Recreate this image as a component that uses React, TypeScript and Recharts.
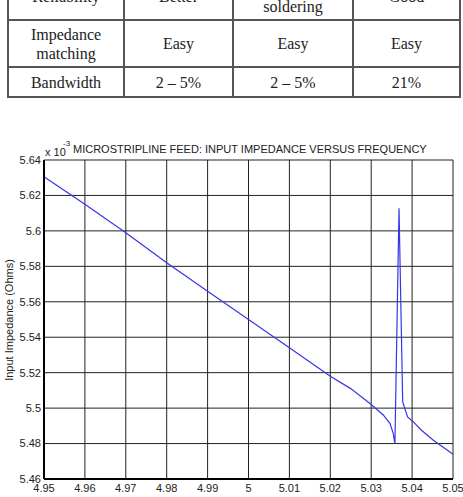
import React from 'react';
import { LineChart, Line, XAxis, YAxis, CartesianGrid } from 'recharts';

// frequency (GHz) and input impedance (x 10^-3 Ohms)
const freq = [
  4.95, 4.96, 4.97, 4.98, 4.99, 5.0, 5.01, 5.02, 5.025, 5.03, 5.033, 5.0346, 5.0354, 5.0358,
  5.0368, 5.0377, 5.0389, 5.0403, 5.0423, 5.0452, 5.05,
];
const impedance = [
  5.6306, 5.615, 5.599, 5.582, 5.566, 5.55, 5.534, 5.518, 5.511, 5.502, 5.496, 5.4913, 5.4856, 5.48,
  5.6128, 5.5035, 5.495, 5.4922, 5.4875, 5.4819, 5.474,
];

const xTicks = [4.95, 4.96, 4.97, 4.98, 4.99, 5.0, 5.01, 5.02, 5.03, 5.04, 5.05];
const xTickLabels = ['4.95', '4.96', '4.97', '4.98', '4.99', '5', '5.01', '5.02', '5.03', '5.04', '5.05'];
const yTicks = [5.46, 5.48, 5.5, 5.52, 5.54, 5.56, 5.58, 5.6, 5.62, 5.64];
const yTickLabels = ['5.46', '5.48', '5.5', '5.52', '5.54', '5.56', '5.58', '5.6', '5.62', '5.64'];

const tableRows = [
  ['Reliability', 'Better', '\u00a0\nsoldering', 'Good'],
  ['Impedance\nmatching', 'Easy', 'Easy', 'Easy'],
  ['Bandwidth', '2 \u2013 5%', '2 \u2013 5%', '21%'],
];
const rowHeights = [47, 47, 30];
const colWidths = [116, 109, 120, 107];

const data = freq.map((f, i) => ({ f, z: impedance[i] }));
const font = '"Liberation Sans", Arial, sans-serif';

export default function App() {
  return (
    <div style={{ position: 'absolute', left: 0, top: 0, width: 463, height: 497, overflow: 'hidden', background: '#fff' }}>
      <table
        style={{
          position: 'absolute', left: 7, top: -28, borderCollapse: 'collapse',
          fontFamily: '"Liberation Serif", "Times New Roman", serif', fontSize: 16, color: '#222',
        }}
      >
        <tbody>
          {tableRows.map((row, r) => (
            <tr key={r} style={{ height: rowHeights[r] }}>
              {row.map((cell, c) => (
                <td
                  key={c}
                  style={{
                    width: colWidths[c], border: '2px solid #555', textAlign: 'center',
                    padding: 0, lineHeight: '19px', whiteSpace: 'pre-line', boxSizing: 'border-box',
                  }}
                >
                  {cell}
                </td>
              ))}
            </tr>
          ))}
        </tbody>
      </table>

      <div style={{ position: 'absolute', left: 0, top: 140 }}>
        <LineChart width={463} height={357} data={data} margin={{ top: 20, right: 10, bottom: 0, left: 0 }}>
          <CartesianGrid stroke="#222" strokeWidth={1} />
          <XAxis
            dataKey="f" type="number" domain={[4.95, 5.05]} ticks={xTicks} allowDataOverflow
            tickFormatter={(v, i) => xTickLabels[i]} height={18} tickLine={false} tickSize={0} tickMargin={5}
            axisLine={{ stroke: '#000', strokeWidth: 2 }} interval={0}
            tick={{ fill: '#222', fontSize: 11, fontFamily: font }}
          />
          <YAxis
            type="number" domain={[5.46, 5.64]} ticks={yTicks} allowDataOverflow
            tickFormatter={(v, i) => yTickLabels[i]} width={44} tickLine={false} tickSize={0} tickMargin={3}
            axisLine={{ stroke: '#000', strokeWidth: 2 }} interval={0}
            tick={{ fill: '#222', fontSize: 11, fontFamily: font }}
          />
          <Line type="linear" dataKey="z" stroke="#3636e6" strokeWidth={1.2} dot={false} isAnimationActive={false} />
        </LineChart>
      </div>

      <svg width={463} height={497} style={{ position: 'absolute', left: 0, top: 0, pointerEvents: 'none' }}>
        <text x={45} y={156} fontSize={11} fontFamily={font} fill="#222">x 10</text>
        <text x={63} y={146} fontSize={8} fontFamily={font} fill="#222">-3</text>
        <text x={73} y={153} fontSize={11} fontFamily={font} fill="#222">
          MICROSTRIPLINE FEED: INPUT IMPEDANCE VERSUS FREQUENCY
        </text>
        <text
          x={8.5} y={320} fontSize={11} fontFamily={font} fill="#222" textAnchor="middle"
          dominantBaseline="central" transform="rotate(-90 8.5 320)"
        >
          Input Impedance (Ohms)
        </text>
      </svg>
    </div>
  );
}
